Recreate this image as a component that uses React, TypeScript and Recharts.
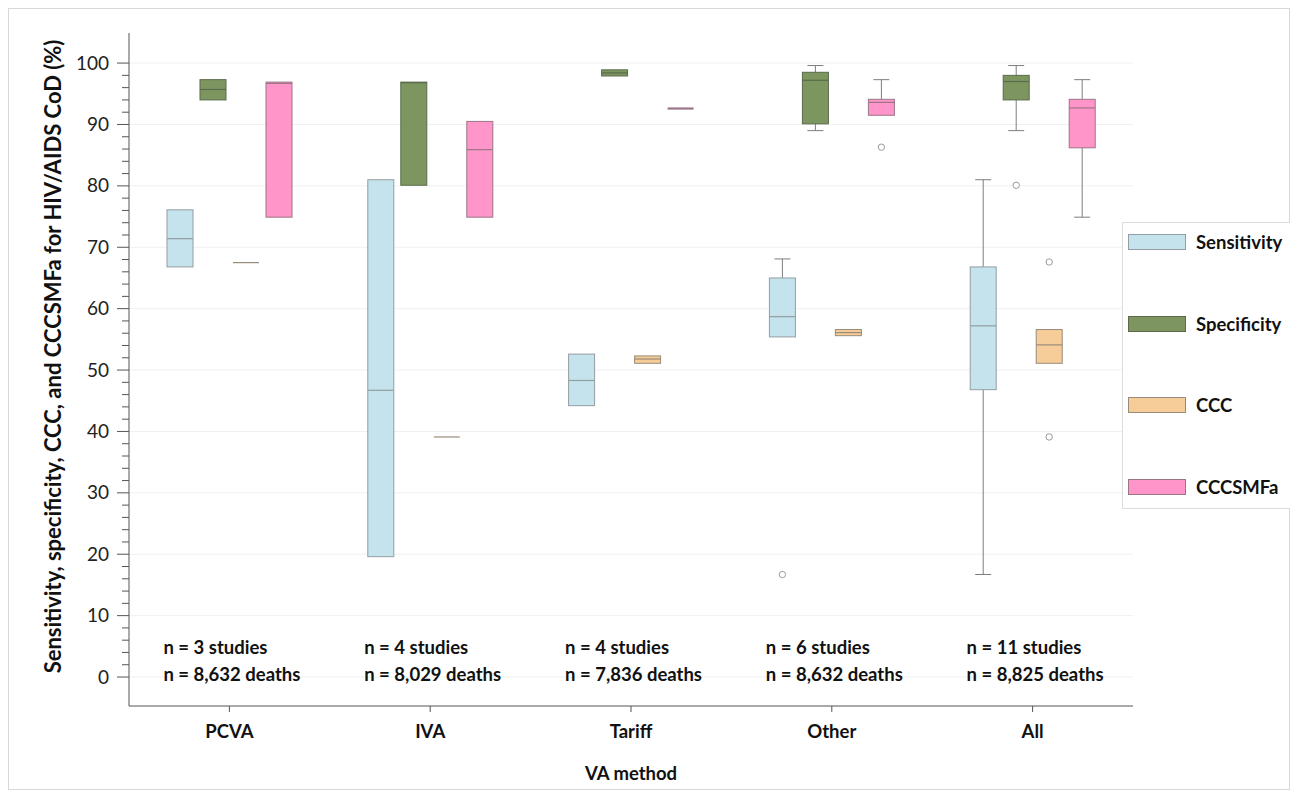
import React from 'react'
import {
  ComposedChart,
  Bar,
  XAxis,
  YAxis,
  CartesianGrid,
} from 'recharts'

const categories = ['PCVA', 'IVA', 'Tariff', 'Other', 'All']
const studies = [3, 4, 4, 6, 11]
const deaths = ['8,632', '8,029', '7,836', '8,632', '8,825']

// [lower whisker, Q1, median, Q3, upper whisker] per category
const sensitivity = [
  [66.8, 66.8, 71.4, 76.1, 76.1],
  [19.6, 19.6, 46.7, 81.0, 81.0],
  [44.2, 44.2, 48.3, 52.6, 52.6],
  [55.4, 55.4, 58.7, 65.0, 68.1],
  [16.7, 46.8, 57.2, 66.8, 81.0],
]
const sensitivityOutliers = [[], [], [], [16.7], []]

const specificity = [
  [94.0, 94.0, 95.7, 97.3, 97.3],
  [80.1, 80.1, 96.8, 96.9, 96.9],
  [97.9, 97.9, 98.4, 98.9, 98.9],
  [89.0, 90.1, 97.2, 98.5, 99.6],
  [89.0, 94.0, 97.0, 98.0, 99.6],
]
const specificityOutliers = [[], [], [], [], [80.1]]

const ccc = [
  [67.5, 67.5, 67.5, 67.5, 67.5],
  [39.1, 39.1, 39.1, 39.1, 39.1],
  [51.1, 51.1, 51.8, 52.3, 52.3],
  [55.6, 55.6, 56.1, 56.6, 56.6],
  [51.1, 51.1, 54.1, 56.6, 56.6],
]
const cccOutliers = [[], [], [], [], [67.6, 39.1]]

const csmfa = [
  [74.9, 74.9, 96.7, 96.9, 96.9],
  [74.9, 74.9, 85.9, 90.5, 90.5],
  [92.6, 92.6, 92.6, 92.6, 92.6],
  [91.5, 91.5, 93.6, 94.1, 97.3],
  [74.9, 86.2, 92.7, 94.1, 97.3],
]
const csmfaOutliers = [[], [], [], [86.3], []]

const majorTicks = [0, 10, 20, 30, 40, 50, 60, 70, 80, 90, 100]
const allTicks = [0, 2, 4, 6, 8, 10, 12, 14, 16, 18, 20, 22, 24, 26, 28, 30, 32, 34, 36, 38, 40, 42, 44, 46, 48, 50, 52, 54, 56, 58, 60, 62, 64, 66, 68, 70, 72, 74, 76, 78, 80, 82, 84, 86, 88, 90, 92, 94, 96, 98, 100]

const FONT = 'Lato, "Open Sans", sans-serif'

const series = [
  { key: 'sens', name: 'Sensitivity', fill: '#c4e3ec', stroke: '#939ea2', box: sensitivity, out: sensitivityOutliers },
  { key: 'spec', name: 'Specificity', fill: '#7d9660', stroke: '#5a6a4b', box: specificity, out: specificityOutliers },
  { key: 'ccc', name: 'CCC', fill: '#f6cc98', stroke: '#998b7b', box: ccc, out: cccOutliers },
  { key: 'smfa', name: 'CCCSMFa', fill: '#ff95c9', stroke: '#9c7487', box: csmfa, out: csmfaOutliers },
]

const data = categories.map((name, i) => {
  const row: any = { name }
  series.forEach(s => {
    const vals = [...s.box[i], ...s.out[i]]
    row[s.key] = [Math.min(...vals), Math.max(...vals)]
  })
  return row
})

function BoxShape(props: any) {
  const { x, y, width, height, index, s } = props
  const [lo, hi] = data[index][s.key]
  const top = Math.min(y, y + height)
  const h = Math.abs(height)
  const py = (v: number) => (hi === lo ? top : top + ((hi - v) / (hi - lo)) * h)
  const [wLo, q1, med, q3, wHi] = s.box[index]
  const cx = x + width / 2
  const cap = 8
  const flat = q3 === q1
  return (
    <g>
      {wHi > q3 && (
        <g stroke="#7d7d7d" strokeWidth={1}>
          <line x1={cx} x2={cx} y1={py(wHi)} y2={py(q3)} />
          <line x1={cx - cap} x2={cx + cap} y1={py(wHi)} y2={py(wHi)} />
        </g>
      )}
      {wLo < q1 && (
        <g stroke="#7d7d7d" strokeWidth={1}>
          <line x1={cx} x2={cx} y1={py(q1)} y2={py(wLo)} />
          <line x1={cx - cap} x2={cx + cap} y1={py(wLo)} y2={py(wLo)} />
        </g>
      )}
      <rect
        x={x}
        y={py(q3)}
        width={width}
        height={Math.max(py(q1) - py(q3), 0)}
        fill={s.fill}
        stroke={s.stroke}
        strokeWidth={1}
      />
      <line
        x1={x}
        x2={x + width}
        y1={py(med)}
        y2={py(med)}
        stroke={s.stroke}
        strokeWidth={flat && s.key === 'smfa' ? 2.2 : 1.2}
      />
      {s.out[index].map((v: number, j: number) => (
        <circle key={j} cx={cx} cy={py(v)} r={3.2} fill="#fff" stroke="#9a9a9a" strokeWidth={1} />
      ))}
    </g>
  )
}

function YTick(props: any) {
  const { x, y, payload } = props
  const v = payload.value
  if (v % 10 !== 0) return null
  return (
    <g>
      <line x1={x + 4} x2={x + 9} y1={y} y2={y} stroke="#555" strokeWidth={1} />
      <text x={x - 4} y={y} dy={6.5} textAnchor="end" fill="#222" fontSize={19} fontFamily={FONT}>
        {v}
      </text>
    </g>
  )
}

function XTick(props: any) {
  const { x, y, payload, index } = props
  return (
    <g fontFamily={FONT} fontWeight="bold" fill="#111" fontSize={18.5}>
      <text x={x} y={y} dy={24} textAnchor="middle">{payload.value}</text>
      <text x={x - 66} y={y} dy={-60} textAnchor="start">n = {studies[index]} studies</text>
      <text x={x - 66} y={y} dy={-33} textAnchor="start">n = {deaths[index]} deaths</text>
    </g>
  )
}

function LegendBox() {
  return (
    <div
      style={{
        position: 'absolute',
        left: 1113,
        top: 213,
        width: 172,
        height: 287,
        border: '1px solid #dcdcdc',
        background: '#fff',
        boxSizing: 'border-box',
        fontFamily: FONT,
        fontWeight: 'bold',
        fontSize: 18.5,
        color: '#111',
      }}
    >
      {series.map((s, i) => (
        <div
          key={s.key}
          style={{
            position: 'absolute',
            left: 5,
            top: 11 + i * 81.7,
            height: 16,
            display: 'flex',
            alignItems: 'center',
            whiteSpace: 'nowrap',
          }}
        >
          <div
            style={{
              width: 58,
              height: 16,
              marginRight: 10,
              background: s.fill,
              border: `1px solid ${s.stroke}`,
              boxSizing: 'border-box',
            }}
          />
          <span>{s.name}</span>
        </div>
      ))}
    </div>
  )
}

function YLabel(props: any) {
  const { viewBox } = props
  const cx = viewBox.x + 32
  const cy = viewBox.y + viewBox.height / 2 - 13
  return (
    <text
      x={cx}
      y={cy}
      transform={`rotate(-90 ${cx} ${cy})`}
      textAnchor="middle"
      fontFamily={FONT}
      fontWeight="bold"
      fontSize={22}
      fill="#111"
    >
      Sensitivity, specificity, CCC, and CCCSMFa for HIV/AIDS CoD (%)
    </text>
  )
}

export default function App() {
  return (
    <div
      style={{
        width: 1282,
        height: 782,
        border: '1px solid #d8d8d8',
        boxSizing: 'border-box',
        background: '#fff',
        position: 'relative',
      }}
    >
      <ComposedChart
        width={1280}
        height={780}
        data={data}
        margin={{ top: 24, right: 156, bottom: 3, left: 20 }}
        barSize={26}
        barGap={7}
      >
        <CartesianGrid vertical={false} horizontalValues={majorTicks} stroke="#f0f0f0" />
        <XAxis
          dataKey="name"
          height={80}
          tickSize={6}
          tickMargin={2}
          stroke="#555"
          tick={<XTick />}
          interval={0}
          label={{
            value: 'VA method',
            position: 'insideBottom',
            offset: 6,
            style: { fontFamily: FONT, fontWeight: 'bold', fontSize: 18.5, fill: '#111' },
          }}
        />
        <YAxis
          type="number"
          domain={[-4.72, 104.9]}
          ticks={allTicks}
          interval={0}
          width={100}
          tickSize={7}
          tickMargin={9}
          stroke="#555"
          tick={<YTick />}
          allowDataOverflow
          label={<YLabel />}
        />
        {series.map(s => (
          <Bar
            key={s.key}
            dataKey={s.key}
            name={s.name}
            fill={s.fill}
            isAnimationActive={false}
            shape={(p: any) => <BoxShape {...p} s={s} />}
          />
        ))}
      </ComposedChart>
      <LegendBox />
    </div>
  )
}
